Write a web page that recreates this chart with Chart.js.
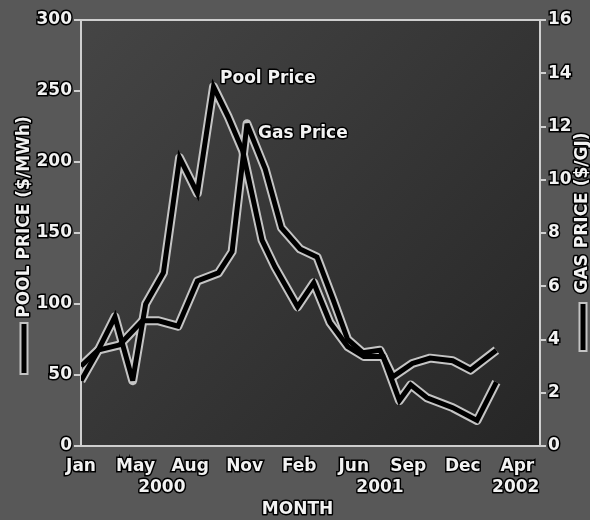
<!DOCTYPE html>
<html>
<head>
<meta charset="utf-8">
<script src="https://cdn.jsdelivr.net/npm/chart.js@4"></script>
<style>
  html, body { margin: 0; padding: 0; background: #585858; }
  #wrap { width: 590px; height: 520px; }
</style>
</head>
<body>
<div id="wrap"><canvas id="prices" width="590" height="520"></canvas></div>
<script>
// months counted from Jan 2000 (0 = Jan 2000)
var poolMonths = [0, 1, 2.1, 3.2, 4.0, 5.1, 6.1, 7.2, 8.2, 9.1, 10.0, 11.2, 12.0, 13.4, 14.4, 15.4, 16.5, 17.5, 18.7, 19.7, 20.4, 21.4, 23.0, 24.5, 25.7];
var poolValues = [46, 66, 91, 46, 100, 122, 203, 178, 253, 232, 208, 145, 126, 98, 115, 87, 70, 63, 63, 32, 43, 34, 27, 18, 45];

var gasMonths = [0, 1.05, 2.4, 3.8, 4.8, 6.0, 7.2, 8.5, 9.35, 10.27, 11.4, 12.4, 13.55, 14.6, 15.6, 16.5, 17.45, 18.5, 19.3, 20.5, 21.6, 23.0, 24.1, 25.7];
var gasValues = [3.0, 3.6, 3.8, 4.7, 4.7, 4.5, 6.2, 6.5, 7.3, 12.1, 10.4, 8.2, 7.4, 7.1, 5.5, 4.0, 3.5, 3.6, 2.6, 3.1, 3.3, 3.2, 2.85, 3.6];

var monthLabels = ['Jan', 'May', 'Aug', 'Nov', 'Feb', 'Jun', 'Sep', 'Dec', 'Apr'];
var labelStep = 3.375;
var yearLabels = ['2000', '2001', '2002'];
var yearMonths = [5.0, 18.5, 26.9];

var TXT = 'bold 17px "DejaVu Sans"';
var AXIS = '#cfcfcf';

function toPoints(xs, ys) {
  return xs.map(function (x, i) { return { x: x, y: ys[i] }; });
}

function lineSet(xs, ys, axis, color, width, order, join) {
  return {
    data: toPoints(xs, ys),
    yAxisID: axis,
    borderColor: color,
    borderWidth: width,
    borderJoinStyle: join,
    pointRadius: 0,
    tension: 0,
    fill: false,
    order: order
  };
}

function outlined(ctx, text, x, y, align) {
  ctx.save();
  ctx.font = TXT;
  ctx.textAlign = align || 'center';
  ctx.textBaseline = 'middle';
  ctx.lineJoin = 'round';
  ctx.lineWidth = 3;
  ctx.strokeStyle = '#000';
  ctx.strokeText(text, x, y);
  ctx.fillStyle = '#f2f2f2';
  ctx.fillText(text, x, y);
  ctx.restore();
}

function legendBar(ctx, x, y1, y2) {
  ctx.save();
  ctx.lineCap = 'butt';
  ctx.strokeStyle = '#c4c4c4';
  ctx.lineWidth = 9;
  ctx.beginPath(); ctx.moveTo(x, y1 - 2); ctx.lineTo(x, y2 + 2); ctx.stroke();
  ctx.strokeStyle = '#000';
  ctx.lineWidth = 5;
  ctx.beginPath(); ctx.moveTo(x, y1); ctx.lineTo(x, y2); ctx.stroke();
  ctx.restore();
}

var backdrop = {
  id: 'backdrop',
  beforeDraw: function (chart) {
    var ctx = chart.ctx, a = chart.chartArea;
    ctx.save();
    ctx.fillStyle = '#585858';
    ctx.fillRect(0, 0, chart.width, chart.height);
    var g = ctx.createLinearGradient(a.left, a.top, a.right, a.bottom);
    g.addColorStop(0, '#454545');
    g.addColorStop(1, '#262626');
    ctx.fillStyle = g;
    ctx.fillRect(a.left, a.top, a.right - a.left, a.bottom - a.top);
    ctx.restore();
  },
  beforeDatasetsDraw: function (chart) {
    var ctx = chart.ctx, a = chart.chartArea;
    ctx.save();
    ctx.strokeStyle = AXIS;
    ctx.lineWidth = 2;
    ctx.beginPath(); ctx.moveTo(a.left, a.top); ctx.lineTo(a.right, a.top); ctx.stroke();
    ctx.restore();
    ctx.miterLimit = 4;
  },
  afterDraw: function (chart) {
    var ctx = chart.ctx, x = chart.scales.x, y = chart.scales.y;
    outlined(ctx, 'Pool Price', x.getPixelForValue(8.6), y.getPixelForValue(259), 'left');
    outlined(ctx, 'Gas Price', x.getPixelForValue(10.95), y.getPixelForValue(220), 'left');
    yearLabels.forEach(function (t, i) {
      outlined(ctx, t, x.getPixelForValue(yearMonths[i]), 488);
    });
    outlined(ctx, 'MONTH', x.getPixelForValue(13.4), 510);

    ctx.save();
    ctx.translate(25, 217);
    ctx.rotate(-Math.PI / 2);
    outlined(ctx, 'POOL PRICE ($/MWh)', 0, 0);
    ctx.restore();
    legendBar(ctx, 24, 324, 373);

    ctx.save();
    ctx.translate(583, 213);
    ctx.rotate(-Math.PI / 2);
    outlined(ctx, 'GAS PRICE ($/GJ)', 0, 0);
    ctx.restore();
    legendBar(ctx, 583, 304, 350);
  }
};

var tickStyle = {
  color: '#f2f2f2',
  font: { family: 'DejaVu Sans', size: 17, weight: 'bold' },
  textStrokeColor: '#000',
  textStrokeWidth: 3
};

var chart = new Chart(document.getElementById('prices').getContext('2d'), {
  type: 'line',
  data: {
    datasets: [
      lineSet(poolMonths, poolValues, 'y', '#c4c4c4', 9, 3, 'round'),
      lineSet(gasMonths, gasValues, 'y2', '#c4c4c4', 9, 2, 'round'),
      lineSet(poolMonths, poolValues, 'y', '#000000', 5, 1, 'miter'),
      lineSet(gasMonths, gasValues, 'y2', '#000000', 5, 0, 'miter')
    ]
  },
  options: {
    responsive: false,
    animation: false,
    devicePixelRatio: 1,
    layout: { padding: { top: 20, left: 0, right: 0, bottom: 0 } },
    plugins: { legend: { display: false }, tooltip: { enabled: false } },
    scales: {
      x: {
        type: 'linear',
        min: 0,
        max: 28.4,
        afterBuildTicks: function (s) {
          s.ticks = monthLabels.map(function (_, i) { return { value: i * labelStep }; });
        },
        afterFit: function (s) { s.height = 74; },
        grid: { display: false, drawTicks: false },
        border: { display: true, color: AXIS, width: 2 },
        ticks: Object.assign({}, tickStyle, {
          padding: 10,
          autoSkip: false,
          maxRotation: 0,
          callback: function (v, i) { return monthLabels[i]; }
        })
      },
      y: {
        position: 'left',
        min: 0,
        max: 300,
        afterFit: function (s) { s.width = 81; },
        grid: { drawOnChartArea: false, drawTicks: true, tickLength: 7, color: AXIS, lineWidth: 2 },
        border: { display: true, color: AXIS, width: 2 },
        ticks: Object.assign({}, tickStyle, { stepSize: 50, padding: 2 })
      },
      y2: {
        position: 'right',
        min: 0,
        max: 16,
        afterFit: function (s) { s.width = 50; },
        grid: { drawOnChartArea: false, drawTicks: true, tickLength: 6, color: AXIS, lineWidth: 2 },
        border: { display: true, color: AXIS, width: 2 },
        ticks: Object.assign({}, tickStyle, { stepSize: 2, padding: 2 })
      }
    }
  },
  plugins: [backdrop]
});
</script>
</body>
</html>
